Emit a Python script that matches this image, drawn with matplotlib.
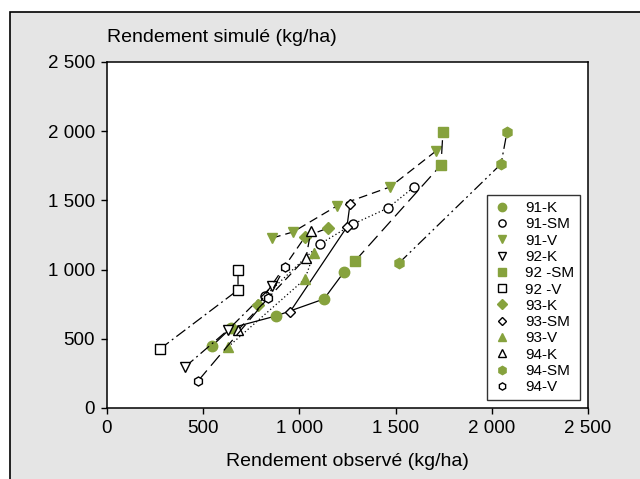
import matplotlib
matplotlib.use("Agg")
import matplotlib.pyplot as plt
from matplotlib.lines import Line2D
from matplotlib.patches import Rectangle
from matplotlib.ticker import FuncFormatter, MultipleLocator

plt.rcParams['font.family'] = ['Liberation Sans', 'DejaVu Sans']

k91_x = [546, 644, 878, 1128, 1232]
k91_y = [448, 578, 665, 788, 983]
sm91_x = [821, 1107, 1279, 1460, 1596]
sm91_y = [809, 1185, 1329, 1445, 1597]
v91_x = [858, 967, 1195, 1471, 1710]
v91_y = [1228, 1272, 1460, 1597, 1857]
k92_x = [405, 629, 858]
k92_y = [296, 564, 881]
sm92_x = [1289, 1736, 1746]
sm92_y = [1062, 1756, 1994]
v92_x = [275, 681, 681]
v92_y = [426, 853, 997]
k93_x = [785, 1029, 1149]
k93_y = [744, 1236, 1301]
sm93_x = [951, 1247, 1263]
sm93_y = [694, 1308, 1474]
v93_x = [629, 1029, 1076]
v93_y = [441, 932, 1120]
k94_x = [681, 1034, 1060]
k94_y = [564, 1084, 1279]
sm94_x = [1518, 2048, 2079]
sm94_y = [1048, 1763, 1994]
v94_x = [473, 837, 925]
v94_y = [195, 795, 1019]

labels = ["91-K", "91-SM", "91-V", "92-K", "92 -SM", "92 -V",
          "93-K", "93-SM", "93-V", "94-K", "94-SM", "94-V"]

green = '#86a23d'
solid = '-'
dotted = (0, (1, 2))
dashed = (0, (7, 4))
longdash = (0, (11, 5))
dashdot = (0, (9, 3, 1.5, 3))
dashdotdot = (0, (9, 3, 1.5, 3, 1.5, 3))

# (x, y, marker, filled, linestyle)
series = [
    (k91_x, k91_y, 'o', True, solid),
    (sm91_x, sm91_y, 'o', False, dotted),
    (v91_x, v91_y, 'v', True, dashed),
    (k92_x, k92_y, 'v', False, dashdot),
    (sm92_x, sm92_y, 's', True, longdash),
    (v92_x, v92_y, 's', False, dashdot),
    (k93_x, k93_y, 'D', True, dashed),
    (sm93_x, sm93_y, 'D', False, solid),
    (v93_x, v93_y, '^', True, dotted),
    (k94_x, k94_y, '^', False, dashed),
    (sm94_x, sm94_y, 'h', True, dashdotdot),
    (v94_x, v94_y, 'h', False, longdash),
]

fig = plt.figure(figsize=(6.4, 4.79), dpi=100)
fig.patch.set_facecolor('white')
fig.patches.append(Rectangle((10 / 640, -0.05), 1.0, 1 - 12 / 479 + 0.05,
                             transform=fig.transFigure, facecolor='#e5e5e5',
                             edgecolor='black', linewidth=1.2, zorder=-10))

ax = fig.add_axes([107 / 640, 1 - 408 / 479, 481 / 640, 346 / 479])
ax.set_zorder(1)
ax.set_facecolor('white')

handles = []
for (xs, ys, mk, filled, ls), lab in zip(series, labels):
    size = 7.5 if filled else 6.5
    if mk == 'D':
        size -= 1.5
    fc = green if filled else 'white'
    ec = green if filled else 'black'
    ax.plot(xs, ys, color='black', lw=0.9, linestyle=ls, marker=mk,
            markersize=size, markerfacecolor=fc, markeredgecolor=ec,
            markeredgewidth=1.0, zorder=3)
    handles.append(Line2D([], [], linestyle='none', marker=mk,
                          markersize=size * 0.8, markerfacecolor=fc,
                          markeredgecolor=ec, markeredgewidth=1.0))

ax.set_xlim(0, 2500)
ax.set_ylim(0, 2500)
ax.xaxis.set_major_locator(MultipleLocator(500))
ax.yaxis.set_major_locator(MultipleLocator(500))
fmt = FuncFormatter(lambda v, p: f"{int(v):,}".replace(",", " "))
ax.xaxis.set_major_formatter(fmt)
ax.yaxis.set_major_formatter(fmt)
ax.tick_params(direction='out', length=4.5, width=1, labelsize=13.5, pad=4)
for sp in ax.spines.values():
    sp.set_linewidth(1.1)

leg = ax.legend(handles, labels, loc='lower right', fontsize=11,
                frameon=True, fancybox=False, edgecolor='black',
                borderaxespad=0.5, labelspacing=0.15, handlelength=1.2,
                handletextpad=0.9, borderpad=0.4)
leg.get_frame().set_linewidth(1.0)

fig.text(107 / 640, 1 - 37 / 479, "Rendement simulé (kg/ha)", fontsize=14,
         ha='left', va='center')
fig.text(347 / 640, 1 - 462 / 479, "Rendement observé (kg/ha)", fontsize=14,
         ha='center', va='center')

fig.savefig("out.png", dpi=100)
